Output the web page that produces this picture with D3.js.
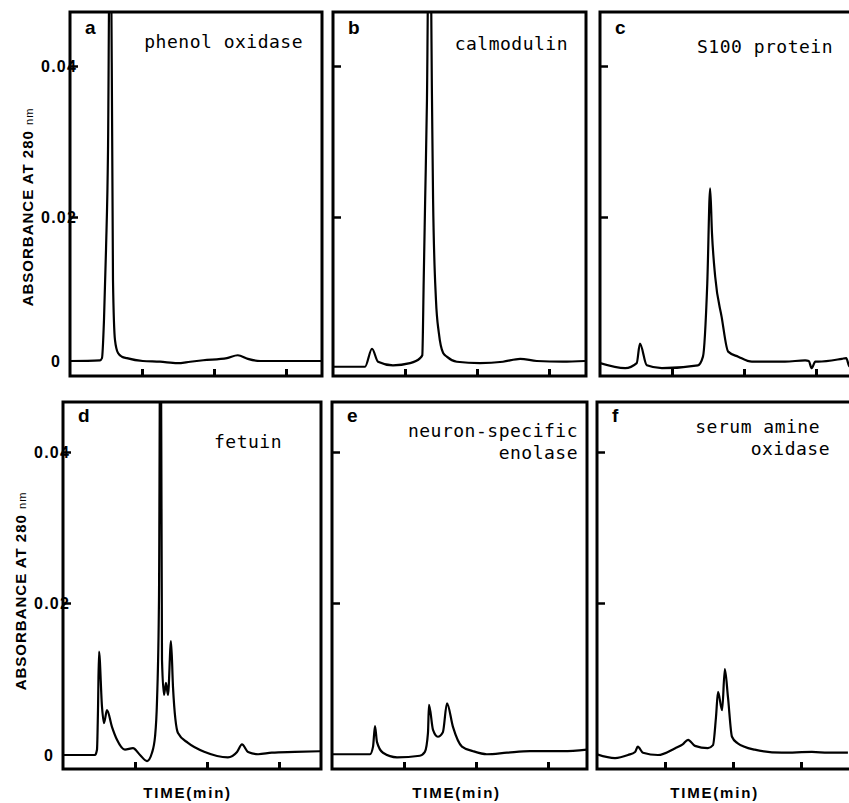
<!DOCTYPE html>
<html>
<head>
<meta charset="utf-8">
<script src="https://cdn.jsdelivr.net/npm/d3@7"></script>
<style>
  body { margin: 0; background: #fff; }
  svg { display: block; }
</style>
</head>
<body>
<div id="chart"></div>
<script>
// chromatogram traces: [time (arbitrary min), absorbance]
const traceA = [[0,0],[4.17,0.0001],[4.44,0.0004],[4.72,0.0057],[5.0,0.0154],[5.28,0.0289],[5.6,0.07],
  [5.97,0.0113],[6.25,0.0029],[6.67,0.0011],[7.22,0.0006],[7.9,0.0004],[10.1,0],[12.5,-0.0001],
  [14.9,-0.0003],[16.7,-0.0001],[18.5,0.0001],[21.8,0.0004],[23.3,0.0008],[24.7,0.0003],[26.4,0],
  [30.6,0],[35,0]];
const traceB = [[0,-0.0008],[4.44,-0.0008],[5.42,0.0017],[6.25,-0.0001],[8.33,-0.0006],[10.7,-0.0003],
  [12.1,0.0004],[12.4,0.0008],[12.6,0.0113],[12.8,0.0223],[13.05,0.0355],[13.4,0.07],[13.75,0.0355],
  [13.9,0.0223],[14.3,0.0085],[14.7,0.0039],[15.3,0.0011],[15.8,0.0006],[17.2,-0.0001],[20.4,-0.0003],
  [23.6,-0.0001],[26.0,0.0003],[28.3,0],[31.9,-0.0001],[35,0]];
const traceC = [[0,-0.0003],[3.5,-0.001],[5.1,-0.0003],[5.55,0.0024],[6.5,-0.0006],[8.6,-0.001],
  [13.6,-0.0006],[14.3,0.0006],[14.9,0.0108],[15.3,0.0238],[15.55,0.0178],[16.0,0.0117],[16.9,0.0061],
  [17.8,0.0013],[19.2,0.0006],[21.1,-0.0001],[25.7,-0.0001],[28.5,0.0001],[29.0,0],[29.4,-0.001],
  [29.9,-0.0001],[30.3,-0.0001],[33.6,0.0003],[34.2,0.0004],[34.6,-0.0007],[35.5,-0.0012]];
const traceD = [[0,0],[4.44,0],[4.72,0.0007],[4.86,0.0059],[5.0,0.0136],[5.42,0.0063],[5.69,0.0042],
  [6.11,0.0059],[6.8,0.0037],[7.5,0.002],[8.6,0.0007],[9.72,0.0009],[10.7,0],[11.67,-0.0008],
  [12.36,0.0003],[12.78,0.0024],[13.06,0.0072],[13.33,0.0204],[13.55,0.07],[13.75,0.0125],
  [14.03,0.0079],[14.3,0.0095],[14.58,0.0079],[15.0,0.015],[15.28,0.0089],[15.97,0.0029],
  [17.36,0.0016],[19.7,0.0004],[22.9,-0.0003],[24.17,0.0004],[24.86,0.0014],[25.7,0.0004],
  [27.1,0.0001],[29.0,0.0003],[32.2,0.0004],[35.8,0.0005]];
const traceE = [[0,0.0001],[5.28,0.0001],[5.7,0.0011],[5.97,0.0038],[6.25,0.0017],[7.08,0.0003],
  [9.03,-0.0003],[12.2,-0.0001],[12.9,0.0004],[13.33,0.0029],[13.47,0.0066],[14.03,0.0033],
  [14.7,0.0024],[15.4,0.003],[15.97,0.0068],[16.8,0.0037],[18.05,0.0011],[19.6,0.0005],
  [21.5,0.0001],[24.3,0.0003],[27.5,0.0005],[32.1,0.0005],[35.4,0.0007]];
const traceF = [[0,0.0001],[2.65,-0.0004],[4.56,0],[5.6,0.0004],[6.0,0.0011],[6.76,0.0003],[8.97,0],
  [11.5,0.0009],[12.6,0.0014],[13.4,0.002],[14.4,0.0012],[16.3,0.0009],[17.06,0.0013],[17.5,0.005],
  [17.8,0.0083],[18.4,0.0059],[18.8,0.0113],[19.26,0.0076],[19.85,0.0024],[20.6,0.0016],
  [23.2,0.0007],[27.2,0.0003],[31.6,0.0004],[34.0,0.0003],[36.9,0.0003]];

const panelLetters = ["a", "b", "c", "d", "e", "f"];
const panelTitles = [["phenol oxidase"], ["calmodulin"], ["S100 protein"], ["fetuin"],
  ["neuron-specific", "enolase"], ["serum amine", "oxidase"]];
const yTickValues = [0.02, 0.04];
const yLabelValues = [0, 0.02, 0.04];
const yLabelText = ["0", "0.02", "0.04"];
const xTickValues = [10, 20, 30];
const xDomain = [0, 35];

// layout of the six frames (pixels)
const rows = [
  {top: 12, bottom: 376, yRange: [361, 217, 66], titleY: 207},
  {top: 402, bottom: 769, yRange: [755, 603, 452], titleY: 591}
];
const panels = [
  {trace: traceA, row: 0, left: 70, right: 322, k: 7.2, tEnd: [303], tY: [48], labels: true},
  {trace: traceB, row: 0, left: 333, right: 586, k: 7.2, tEnd: [568], tY: [50]},
  {trace: traceC, row: 0, left: 600, right: 875, k: 7.2, tEnd: [833], tY: [53]},
  {trace: traceD, row: 1, left: 63, right: 321, k: 7.2, tEnd: [282], tY: [448], labels: true, time: true},
  {trace: traceE, row: 1, left: 332, right: 587, k: 7.2, tEnd: [578, 578], tY: [437, 459], time: true},
  {trace: traceF, row: 1, left: 597, right: 875, k: 6.8, tEnd: [820, 830], tY: [433, 455], time: true}
];

const svg = d3.select("#chart").append("svg")
    .attr("width", 849)
    .attr("height", 803);
svg.append("rect").attr("width", 849).attr("height", 803).attr("fill", "#fff");

panels.forEach((p, i) => {
    const r = rows[p.row];
    const x = d3.scaleLinear().domain(xDomain).range([p.left, p.left + 35 * p.k]);
    const y = d3.scaleLinear().domain([0, 0.02, 0.04]).range(r.yRange);
    const g = svg.append("g");

    g.append("clipPath")
        .attr("id", "clip" + i)
        .append("rect")
        .attr("x", p.left)
        .attr("y", r.top)
        .attr("width", p.right - p.left)
        .attr("height", r.bottom - r.top);

    const line = d3.line()
        .x(d => x(d[0]))
        .y(d => y(d[1]))
        .curve(d3.curveMonotoneX);

    g.append("path")
        .datum(p.trace)
        .attr("clip-path", `url(#clip${i})`)
        .attr("d", line)
        .attr("fill", "none")
        .attr("stroke", "#000")
        .attr("stroke-width", 2.2)
        .attr("stroke-linejoin", "round");

    // inward ticks
    g.append("g")
        .attr("transform", `translate(0,${r.bottom})`)
        .call(d3.axisBottom(x).tickValues(xTickValues).tickSize(-7).tickFormat(""))
        .call(a => a.select(".domain").remove())
        .selectAll("line").attr("stroke-width", 3);
    g.append("g")
        .attr("transform", `translate(${p.left},0)`)
        .call(d3.axisLeft(y).tickValues(yTickValues).tickSize(-8).tickFormat(""))
        .call(a => a.select(".domain").remove())
        .selectAll("line").attr("stroke-width", 2.5);

    // frame
    g.append("rect")
        .attr("x", p.left)
        .attr("y", r.top)
        .attr("width", p.right - p.left)
        .attr("height", r.bottom - r.top)
        .attr("fill", "none")
        .attr("stroke", "#000")
        .attr("stroke-width", 3);

    // panel letter
    g.append("text")
        .attr("x", p.left + 15)
        .attr("y", r.top + (p.row === 0 ? 22 : 20))
        .attr("font-family", "Liberation Sans, Arial, sans-serif")
        .attr("font-weight", "bold")
        .attr("font-size", 19)
        .text(panelLetters[i]);

    // protein name
    panelTitles[i].forEach((t, j) => {
        g.append("text")
            .attr("x", p.tEnd[j])
            .attr("y", p.tY[j])
            .attr("text-anchor", "end")
            .attr("font-family", "DejaVu Sans Mono, monospace")
            .attr("font-size", 18)
            .attr("letter-spacing", 0.5)
            .text(t);
    });

    if (p.labels) {
        yLabelValues.forEach((v, j) => {
            g.append("text")
                .attr("x", v === 0 ? p.left - 9 : p.left + 7)
                .attr("y", y(v))
                .attr("dy", "0.36em")
                .attr("text-anchor", "end")
                .attr("font-family", "Liberation Sans, Arial, sans-serif")
                .attr("font-weight", "bold")
                .attr("font-size", 16)
                .attr("letter-spacing", 1.2)
                .text(yLabelText[j]);
        });
        const yt = g.append("text")
            .attr("transform", `translate(${p.left - 37},${r.titleY}) rotate(-90)`)
            .attr("text-anchor", "middle")
            .attr("font-family", "Liberation Sans, Arial, sans-serif")
            .attr("font-weight", "bold")
            .attr("font-size", 15)
            .attr("letter-spacing", 1);
        yt.append("tspan").text("ABSORBANCE AT 280 ");
        yt.append("tspan").attr("font-size", 11).attr("font-weight", "normal").text("nm");
    }

    if (p.time) {
        g.append("text")
            .attr("x", x(17.3))
            .attr("y", 798)
            .attr("text-anchor", "middle")
            .attr("font-family", "Liberation Sans, Arial, sans-serif")
            .attr("font-weight", "bold")
            .attr("font-size", 15)
            .attr("letter-spacing", 1.8)
            .text("TIME(min)");
    }
});
</script>
</body>
</html>
